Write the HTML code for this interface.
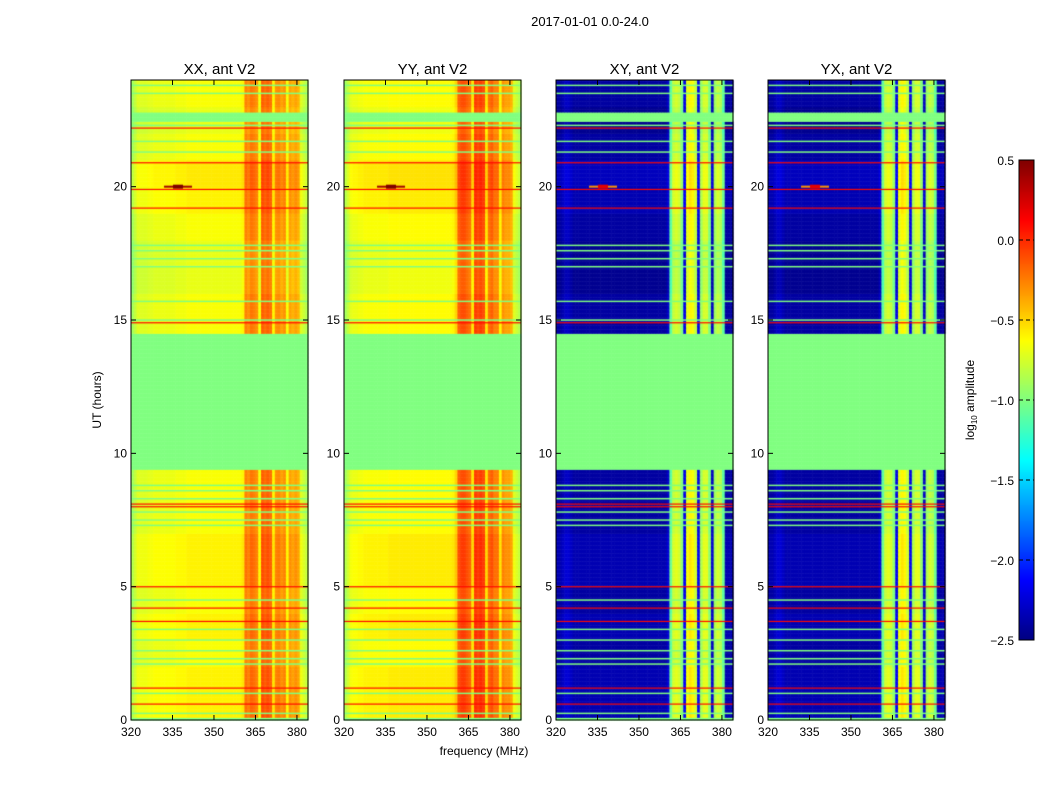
<!DOCTYPE html>
<html><head><meta charset="utf-8"><style>
body{margin:0;background:#fff;width:1050px;height:800px;overflow:hidden;font-family:"Liberation Sans",sans-serif}
#wrap{position:relative;width:1050px;height:800px}
canvas,svg{position:absolute;left:0;top:0}
</style></head><body>
<div id="wrap">
<canvas id="cv" width="1050" height="800"></canvas>
<svg id="sv" width="1050" height="800"></svg>
</div>
<script>
// ---- data ----
const panelTitles = ["XX, ant V2","YY, ant V2","XY, ant V2","YX, ant V2"];
const freqStart = 320, freqCount = 64; // 1 MHz channels
const colXX = [-0.9,-0.8,-0.72,-0.72,-0.72,-0.72,-0.7,-0.7,-0.68,-0.68,-0.68,-0.68,-0.68,-0.68,-0.68,-0.68,-0.66,-0.66,-0.66,-0.66,-0.64,-0.64,-0.64,-0.64,-0.64,-0.64,-0.64,-0.64,-0.64,-0.64,-0.64,-0.64,-0.64,-0.64,-0.64,-0.64,-0.64,-0.64,-0.64,-0.64,-0.6,-0.25,-0.3,-0.22,-0.25,-0.3,-0.65,-0.15,-0.2,-0.15,-0.2,-0.6,-0.3,-0.28,-0.35,-0.3,-0.65,-0.35,-0.4,-0.35,-0.4,-0.72,-0.78,-0.85];
const colYY = [-0.9,-0.8,-0.7,-0.68,-0.68,-0.66,-0.66,-0.64,-0.64,-0.64,-0.64,-0.64,-0.64,-0.64,-0.64,-0.64,-0.62,-0.62,-0.62,-0.62,-0.62,-0.62,-0.62,-0.62,-0.62,-0.62,-0.62,-0.62,-0.62,-0.62,-0.62,-0.62,-0.62,-0.62,-0.62,-0.62,-0.62,-0.62,-0.62,-0.6,-0.5,-0.15,-0.1,-0.1,-0.15,-0.2,-0.55,-0.05,-0.1,-0.05,-0.1,-0.55,-0.2,-0.15,-0.25,-0.25,-0.6,-0.3,-0.35,-0.35,-0.4,-0.72,-0.78,-0.85];
const colXY = [-2.4,-2.4,-2.35,-2.3,-2.3,-2.35,-2.4,-2.4,-2.4,-2.4,-2.4,-2.4,-2.4,-2.4,-2.4,-2.4,-2.4,-2.4,-2.4,-2.4,-2.4,-2.4,-2.4,-2.4,-2.4,-2.4,-2.4,-2.4,-2.4,-2.4,-2.4,-2.4,-2.4,-2.4,-2.4,-2.4,-2.4,-2.4,-2.4,-2.4,-2.3,-1.1,-0.8,-0.75,-0.8,-1.0,-2.2,-0.7,-0.6,-0.65,-0.8,-2.2,-0.9,-0.75,-0.75,-1.0,-2.3,-0.9,-0.8,-0.85,-1.1,-2.4,-2.4,-2.4];
const colYX = colXY;
const rowModHourly = [0.05,0.05,0.0,0.05,0.0,0.05,0.05,0.0,0.0,0,0,0,0,0,0,0.0,-0.05,-0.05,0.0,0.05,0.08,0.0,-0.05,0.0];
const flagBands = [[0,0.1],[9.4,14.5],[22.45,22.8]];
const greenLines = [0.25,1.0,2.1,2.3,2.6,3.0,3.4,4.5,7.3,7.5,7.8,8.3,8.6,8.8,15.0,15.7,17.0,17.3,17.6,17.8,21.3,21.7,22.3,23.5,23.8];
const redLines = [0.6,1.2,3.7,4.2,5.0,8.0,8.1,14.9,19.2,19.9,20.9,22.2];
const xTicks = [320,335,350,365,380];
const yTicks = [0,5,10,15,20];
const cbTicks = [0.5,0.0,-0.5,-1.0,-1.5,-2.0,-2.5];
const cols = [colXX,colYY,colXY,colYX];

// ---- layout ----
const panelX = [131,344,556,768], PW=177, PT=80, PB=720;
const fMin=320, fMax=384, tMax=24, vMin=-2.5, vMax=0.5;
const xs=(p,f)=>panelX[p]+(f-fMin)/(fMax-fMin)*PW;
const ys=h=>PB-(h/tMax)*(PB-PT);
function jet(v){let t=(v-vMin)/(vMax-vMin);t=Math.max(0,Math.min(1,t));
 const c=x=>Math.round(255*Math.max(0,Math.min(1,x)));
 return `rgb(${c(1.5-Math.abs(4*t-3))},${c(1.5-Math.abs(4*t-2))},${c(1.5-Math.abs(4*t-1))})`;}
const cv=document.getElementById('cv').getContext('2d');
const dt=0.05;
for(let p=0;p<4;p++){
 for(let r=0;r<tMax/dt;r++){
  const h=r*dt, y0=ys(h+dt), y1=ys(h);
  let flag=flagBands.some(b=>h>=b[0]&&h<b[1]);
  for(let f=0;f<freqCount;f++){
   let v=flag?-1.0:cols[p][f]+rowModHourly[Math.floor(h)];
   cv.fillStyle=jet(v);
   const x0=xs(p,freqStart+f),x1=xs(p,freqStart+f+1);
   cv.fillRect(x0,y0,x1-x0+0.5,y1-y0+0.5);
  }
 }
 greenLines.forEach(h=>{cv.fillStyle=jet(-1.0);cv.fillRect(panelX[p],ys(h)-0.7,PW,1.5);});
 redLines.forEach(h=>{cv.fillStyle=jet(0.1);cv.fillRect(panelX[p],ys(h)-0.5,PW,1.2);});
 const bx=xs(p,337),by=ys(20);
 cv.fillStyle=jet(p<2?0.4:-0.3);cv.fillRect(bx-14,by-1,28,2);
 cv.fillStyle=jet(p<2?0.5:0.2);cv.fillRect(bx-5,by-2,10,4);
}
for(let i=0;i<480;i++){cv.fillStyle=jet(vMax-(i/480)*(vMax-vMin));cv.fillRect(1019,160+i,15,1);}

// ---- svg ----
const sv=document.getElementById('sv');const NS='http://www.w3.org/2000/svg';
function el(tag,attrs,txt){const e=document.createElementNS(NS,tag);for(const k in attrs)e.setAttribute(k,attrs[k]);if(txt!==undefined)e.textContent=txt;sv.appendChild(e);return e;}
let t=el('text',{x:590,y:26,'text-anchor':'middle','font-size':13},'2017-01-01 0.0-24.0');


for(let p=0;p<4;p++){
 const fr=el('rect',{x:panelX[p],y:PT,width:PW,height:PB-PT,fill:'none',stroke:'#000','stroke-width':1});
 
 
 const tt=el('text',{x:panelX[p]+PW/2,y:74,'text-anchor':'middle','font-size':15},panelTitles[p]);
 
 
 xTicks.forEach(v=>{const x=xs(p,v);
  el('line',{x1:x,x2:x,y1:PB,y2:PB-5,stroke:'#000'});el('line',{x1:x,x2:x,y1:PT,y2:PT+5,stroke:'#000'});
  const l=el('text',{x:x,y:PB+16,'text-anchor':'middle','font-size':12},v);
  
  });
 yTicks.forEach(v=>{const y=ys(v);
  el('line',{x1:panelX[p],x2:panelX[p]+5,y1:y,y2:y,stroke:'#000'});el('line',{x1:panelX[p]+PW,x2:panelX[p]+PW-5,y1:y,y2:y,stroke:'#000'});
  const l=el('text',{x:panelX[p]-4,y:y+4,'text-anchor':'end','font-size':12},v);
  
  });
}
t=el('text',{x:484,y:755,'text-anchor':'middle','font-size':12},'frequency (MHz)');


t=el('text',{x:101,y:400,'text-anchor':'middle','font-size':12,transform:'rotate(-90 101 400)'},'UT (hours)');


const cbf=el('rect',{x:1019,y:160,width:15,height:480,fill:'none',stroke:'#000'});


cbTicks.forEach(v=>{const y=160+(vMax-v)/(vMax-vMin)*480;
 el('line',{x1:1019,x2:1034,y1:y,y2:y,stroke:'#000','stroke-dasharray':'4,3'});
 const l=el('text',{x:1014,y:y+5,'text-anchor':'end','font-size':12},v.toFixed(1).replace('-','\u2212'));
 
 });
const cl=el('text',{x:974,y:400,'text-anchor':'middle','font-size':12,transform:'rotate(-90 974 400)'});
cl.innerHTML='log<tspan font-size="8" dy="3">10</tspan><tspan dy="-3"> amplitude</tspan>';


</script>
</body></html>
